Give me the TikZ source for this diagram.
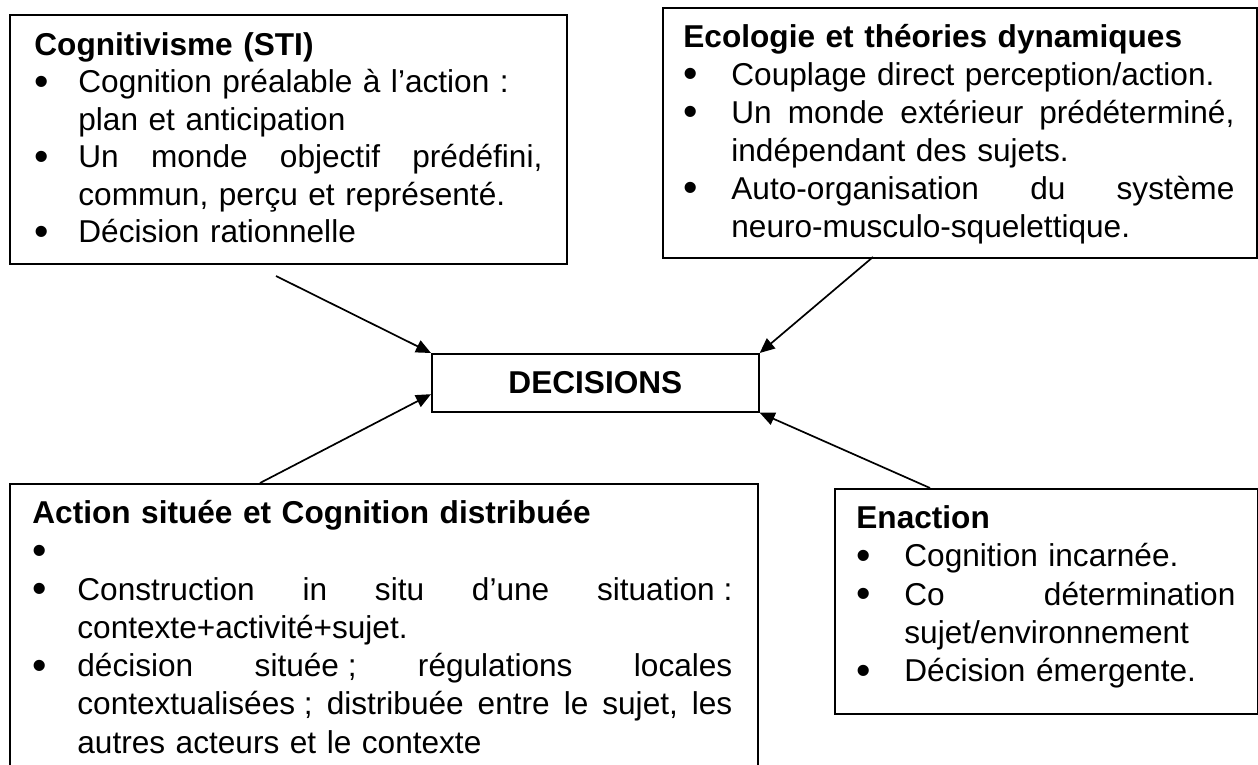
\documentclass[tikz,border=0pt]{standalone}
\usepackage{fontspec}
\usepackage{graphicx}
\setmainfont{Liberation Sans}
\usetikzlibrary{arrows.meta,calc}

% first (heading) line of a box, with a strut fixing its top
\newcommand\hd[1]{\noindent\rule{0pt}{14pt}\textbf{#1}}
% bullet in a slot of the given indent
\newcommand\bul[1]{\makebox[#1][l]{\raisebox{-1.2pt}{\scalebox{1.3}{\textbullet}}}}
% continuation indent
\newcommand\ind[1]{\hspace*{#1}}
% justified line: words spread over the given width (gaps written as \gap)
\newcommand\jl[2]{\hbox to #1{#2}}
\newcommand\gap{\hspace{0.278em plus 1fill}}
% fixed (non-stretching) space before ; and :
\newcommand\fs{\hspace{0.278em}}

\begin{document}
\begin{tikzpicture}[x=0.5pt,y=-0.5pt,
  frame/.style={draw, line width=0.85pt, inner sep=0pt, anchor=north west},
  txt/.style={inner sep=0pt, anchor=north west, align=left},
  conn/.style={line width=0.85pt, -{Triangle[length=7.5pt,width=6.5pt]}}]

\useasboundingbox (0,0) rectangle (1258,765);
\fill[white] (0,0) rectangle (1258,765);
\clip (0,0) rectangle (1258,765);

% ---- boxes ----
\node[frame, minimum width=278.5pt, minimum height=124.5pt] (A) at (9,14) {};
\node[frame, minimum width=297pt,   minimum height=125pt]   (B) at (662,7) {};
\node[frame, minimum width=374pt,   minimum height=158.5pt] (C) at (9,483) {};
\node[frame, minimum width=211.5pt, minimum height=112.5pt] (D) at (834,488) {};
\node[frame, minimum width=163.5pt, minimum height=29pt] (dec) at (431,353) {};
\node[font=\fontsize{15.8pt}{19pt}\selectfont\bfseries] (dect) at (dec.center) {DECISIONS};

% ---- texts ----
\node[txt, text width=262pt, font=\fontsize{15.8pt}{18.75pt}\selectfont] (tA) at (34,27) {%
\hd{Cognitivisme (STI)}\\
\bul{22pt}Cognition préalable à l’action :\\
\ind{22pt}plan et anticipation\\
\bul{22pt}\jl{232pt}{Un\gap monde\gap objectif\gap prédéfini,}\\
\ind{22pt}commun, perçu et représenté.\\
\bul{22pt}Décision rationnelle};

\node[txt, text width=278pt, font=\fontsize{15.8pt}{19pt}\selectfont] (tB) at (683,19) {%
\hd{Ecologie et théories dynamiques}\\
\bul{24pt}Couplage direct perception/action.\\
\bul{24pt}\jl{251.5pt}{Un\gap monde\gap extérieur\gap prédéterminé,}\\
\ind{24pt}indépendant des sujets.\\
\bul{24pt}\jl{251.5pt}{Auto-organisation\gap du\gap système}\\
\ind{24pt}neuro-musculo-squelettique.};

\node[txt, text width=352pt, font=\fontsize{15.8pt}{19.15pt}\selectfont] (tC) at (32,495) {%
\hd{Action située et Cognition distribuée}\\
\bul{22.5pt}\\
\bul{22.5pt}\jl{327.5pt}{Construction\gap in\gap situ\gap d’une\gap situation\fs:}\\
\ind{22.5pt}contexte+activité+sujet.\\
\bul{22.5pt}\jl{327.5pt}{décision\gap située\fs;\gap régulations\gap locales}\\
\ind{22.5pt}\jl{327.5pt}{contextualisées\fs;\gap distribuée\gap entre\gap le\gap sujet,\gap les}\\
\ind{22.5pt}autres acteurs et le contexte};

\node[txt, text width=192pt, font=\fontsize{15.8pt}{19.15pt}\selectfont] (tD) at (856,500) {%
\hd{Enaction}\\
\bul{24pt}Cognition incarnée.\\
\bul{24pt}\jl{165.5pt}{Co\gap détermination}\\
\ind{24pt}sujet/environnement\\
\bul{24pt}Décision émergente.};

% ---- connectors ----
\coordinate (sA) at (276,276);
\coordinate (sB) at (873,257);
\coordinate (sC) at (260,483);
\coordinate (sD) at (930,488);
\draw[conn] (sA) -- (dec.north west);
\draw[conn] (sB) -- (dec.north east);
\draw[conn] (sC) -- ($(dec.north west)!0.69!(dec.south west)$);
\draw[conn] (sD) -- (dec.south east);
\end{tikzpicture}
\end{document}
